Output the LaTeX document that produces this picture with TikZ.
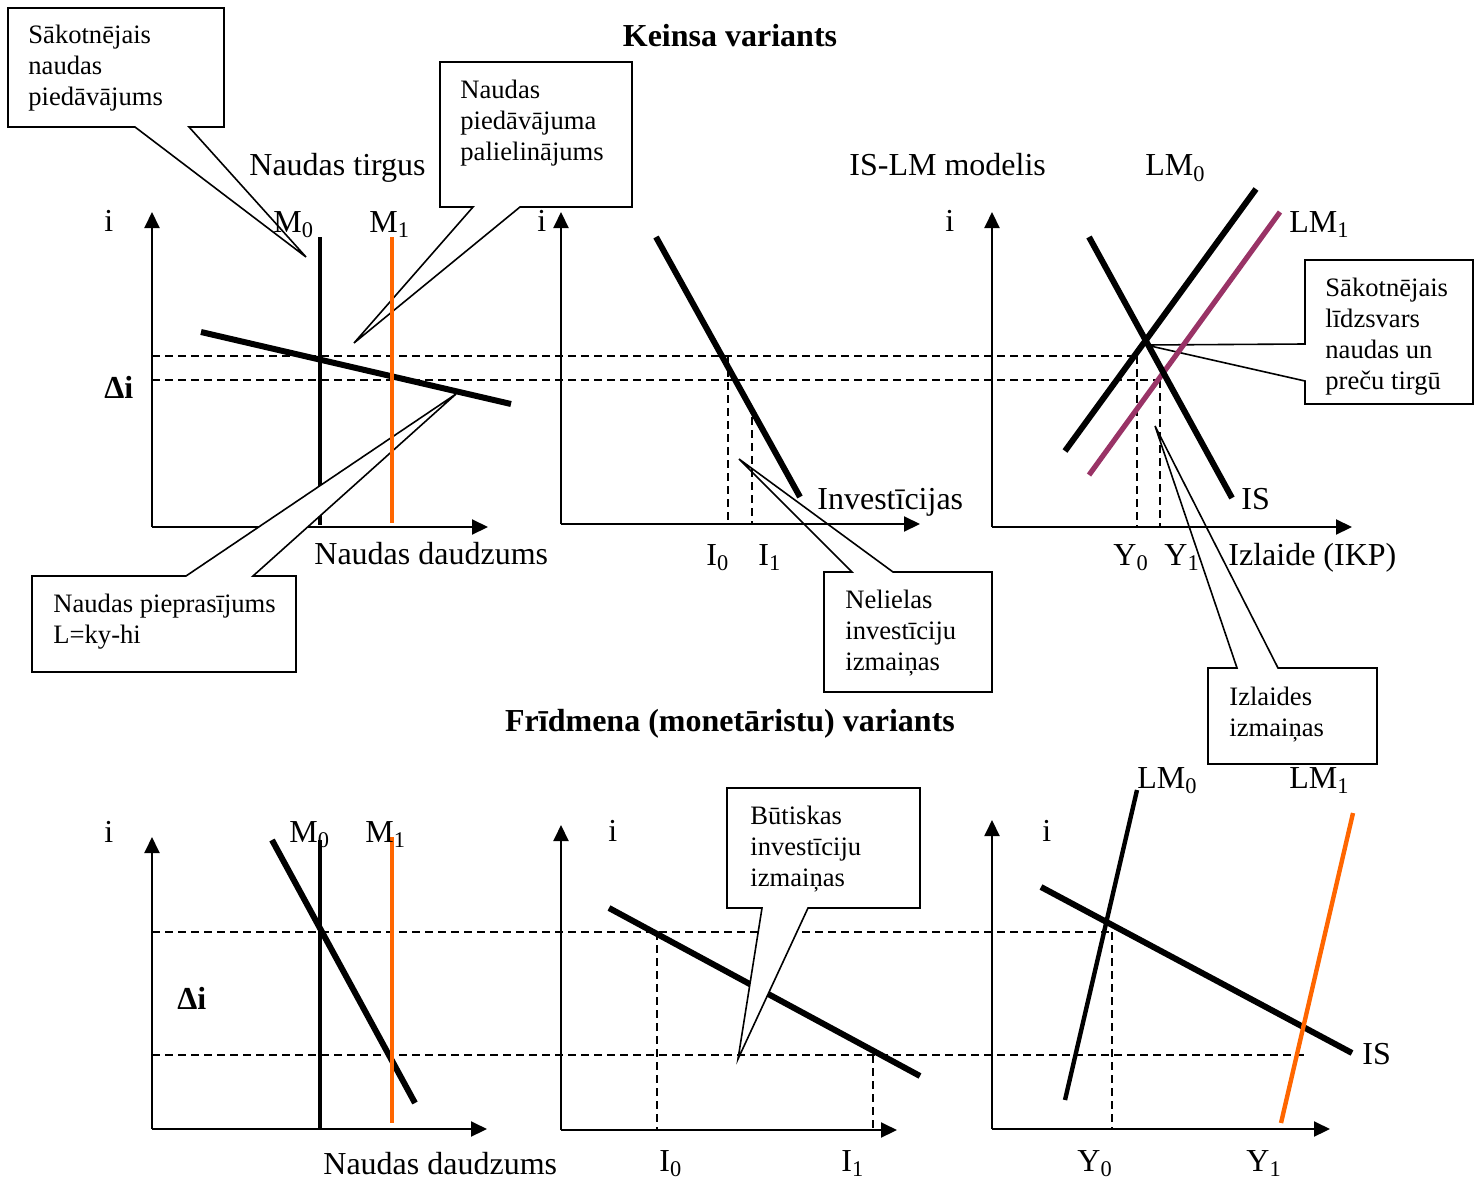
\documentclass[tikz,border=0pt]{standalone}
\usepackage{fontspec}
\setmainfont{Liberation Serif}
\usetikzlibrary{arrows.meta}
\definecolor{morange}{RGB}{255,102,0}
\definecolor{mpurple}{RGB}{153,51,102}
\begin{document}
\begin{tikzpicture}[x=0.5pt,y=-0.5pt,
  axis/.style={line width=1pt,-{Triangle[length=8pt,width=7.5pt]}},
  guide/.style={line width=0.7pt,dash pattern=on 4pt off 2.5pt},
  curve/.style={line width=3pt},
  vline/.style={line width=1.7pt},
  callout/.style={draw,fill=white,line width=0.8pt,line join=miter},
  lbl/.style={inner sep=0pt,anchor=base west,font=\fontsize{16}{19}\selectfont},
  boxtxt/.style={inner sep=0pt,anchor=north west,align=left,font=\fontsize{13.3}{15.5}\selectfont},
  ttl/.style={inner sep=0pt,anchor=base,font=\bfseries\fontsize{16}{19}\selectfont}]
\useasboundingbox (0,0) rectangle (1475,1182);

% ---------- callouts drawn beneath the lines ----------
\draw[callout] (8,8) -- (224,8) -- (224,127) -- (189,127) -- (306,257) -- (135,127) -- (8,127) -- cycle;
\draw[callout] (440,62) -- (632,62) -- (632,207) -- (520,207) -- (354,343) -- (473,207) -- (440,207) -- cycle;
\draw[callout] (824,572) -- (852,572) -- (739,459) -- (893,572) -- (992,572) -- (992,692) -- (824,692) -- cycle;
\draw[callout] (1305,260) -- (1473,260) -- (1473,404) -- (1305,404) -- (1305,381) -- (1146,345) -- (1305,344) -- cycle;
\draw[callout] (1208,668) -- (1237,668) -- (1155,426) -- (1278,668) -- (1377,668) -- (1377,764) -- (1208,764) -- cycle;

% ---------- top: Keynes ----------
\coordinate (tlO) at (152,527);
\draw[axis] (tlO) -- (152,212);
\draw[axis] (tlO) -- (488,527);
\coordinate (tmO) at (561,524);
\draw[axis] (tmO) -- (561,212);
\draw[axis] (tmO) -- (920,524);
\coordinate (trO) at (992,527);
\draw[axis] (trO) -- (992,212);
\draw[axis] (trO) -- (1352,527);

\draw[guide] (152,356) -- (1137,356);
\draw[guide] (152,380) -- (1160,380);
\draw[guide] (728,356) -- (728,524);
\draw[guide] (752,417) -- (752,524);
\draw[guide] (1137,356) -- (1137,527);
\draw[guide] (1160,380) -- (1160,527);

\draw[vline] (320,237) -- (320,525);
\draw[curve] (201,332) -- (511,404);
\draw[curve] (656,237) -- (800,497);
\draw[curve] (1065,451) -- (1256,189);
\draw[curve,mpurple,line width=2.6pt] (1089,475) -- (1280,212);
\draw[curve] (1089,237) -- (1232,498);

\draw[callout] (32,576) -- (186,576) -- (456,394) -- (253,576) -- (296,576) -- (296,672) -- (32,672) -- cycle;
\draw[vline,morange,line width=1.6pt] (392,237) -- (392,523);

% ---------- bottom: Friedman ----------
\coordinate (blO) at (152,1129);
\draw[axis] (blO) -- (152,837);
\draw[axis] (blO) -- (487,1129);
\coordinate (bmO) at (561,1130);
\draw[axis] (bmO) -- (561,825);
\draw[axis] (bmO) -- (897,1130);
\coordinate (brO) at (992,1129);
\draw[axis] (brO) -- (992,820);
\draw[axis] (brO) -- (1330,1129);

\draw[guide] (152,932) -- (1112,932);
\draw[guide] (152,1055) -- (1305,1055);
\draw[guide] (657,932) -- (657,1129);
\draw[guide] (873,1055) -- (873,1129);
\draw[guide] (1112,932) -- (1112,1129);

\draw[vline] (320,840) -- (320,1129);
\draw[curve] (272,840) -- (415,1103);
\draw[vline,morange,line width=1.6pt] (392,837) -- (392,1123);
\draw[curve] (609,908) -- (920,1076);
\draw[curve,line width=2.2pt] (1065,1100) -- (1137,790);
\draw[curve] (1041,887) -- (1352,1053);
\draw[curve,morange,line width=2.2pt] (1281,1123) -- (1353,813);

\draw[callout] (727,788) -- (920,788) -- (920,908) -- (808,908) -- (738,1059) -- (762,908) -- (727,908) -- cycle;

% ---------- texts ----------
\node[ttl] (t1) at (730,47) {Keinsa variants};
\node[ttl] (t2) at (730,731) {Frīdmena (monetāristu) variants};

\node[boxtxt] (b1) at (28,25) {Sākotnējais\\naudas\\piedāvājums};
\node[boxtxt] (b2) at (460,80) {Naudas\\piedāvājuma\\palielinājums};
\node[boxtxt] (b3) at (53,594) {Naudas pieprasījums\\L=ky-hi};
\node[boxtxt] (b4) at (845,590) {Nelielas\\investīciju\\izmaiņas};
\node[boxtxt] (b5) at (1325,278) {Sākotnējais\\līdzsvars\\naudas un\\preču tirgū};
\node[boxtxt] (b6) at (1229,687) {Izlaides\\izmaiņas};
\node[boxtxt] (b7) at (750,806) {Būtiskas\\investīciju\\izmaiņas};

\node[lbl] (nt) at (249,176) {Naudas tirgus};
\node[lbl] (islm) at (849,176) {IS-LM modelis};
\node[lbl] (lm0a) at (1145,176) {LM\textsubscript{0}};
\node[lbl] (ia) at (104,231) {i};
\node[lbl] (m0a) at (273,232) {M\textsubscript{0}};
\node[lbl] (m1a) at (369,232) {M\textsubscript{1}};
\node[lbl] (ib) at (537,231) {i};
\node[lbl] (ic) at (945,231) {i};
\node[lbl] (lm1a) at (1289,232) {LM\textsubscript{1}};
\node[lbl,font=\bfseries\fontsize{16}{19}\selectfont] (dia) at (104,398) {Δi};
\node[lbl] (inv) at (817,509) {Investīcijas};
\node[lbl] (isa) at (1241,509) {IS};
\node[lbl] (nda) at (314,564) {Naudas daudzums};
\node[lbl] (i0a) at (706,565) {I\textsubscript{0}};
\node[lbl] (i1a) at (758,565) {I\textsubscript{1}};
\node[lbl] (y0a) at (1113,565) {Y\textsubscript{0}};
\node[lbl] (y1a) at (1164,565) {Y\textsubscript{1}};
\node[lbl] (izl) at (1228,565) {Izlaide (IKP)};

\node[lbl] (id) at (104,842) {i};
\node[lbl] (m0b) at (289,842) {M\textsubscript{0}};
\node[lbl] (m1b) at (365,842) {M\textsubscript{1}};
\node[lbl] (ie) at (608,841) {i};
\node[lbl] (if) at (1042,841) {i};
\node[lbl] (lm0b) at (1137,788) {LM\textsubscript{0}};
\node[lbl] (lm1b) at (1289,788) {LM\textsubscript{1}};
\node[lbl,font=\bfseries\fontsize{16}{19}\selectfont] (dib) at (177,1009) {Δi};
\node[lbl] (isb) at (1362,1064) {IS};
\node[lbl] (ndb) at (323,1174) {Naudas daudzums};
\node[lbl] (i0b) at (659,1171) {I\textsubscript{0}};
\node[lbl] (i1b) at (841,1171) {I\textsubscript{1}};
\node[lbl] (y0b) at (1077,1171) {Y\textsubscript{0}};
\node[lbl] (y1b) at (1246,1171) {Y\textsubscript{1}};
\end{tikzpicture}
\end{document}
